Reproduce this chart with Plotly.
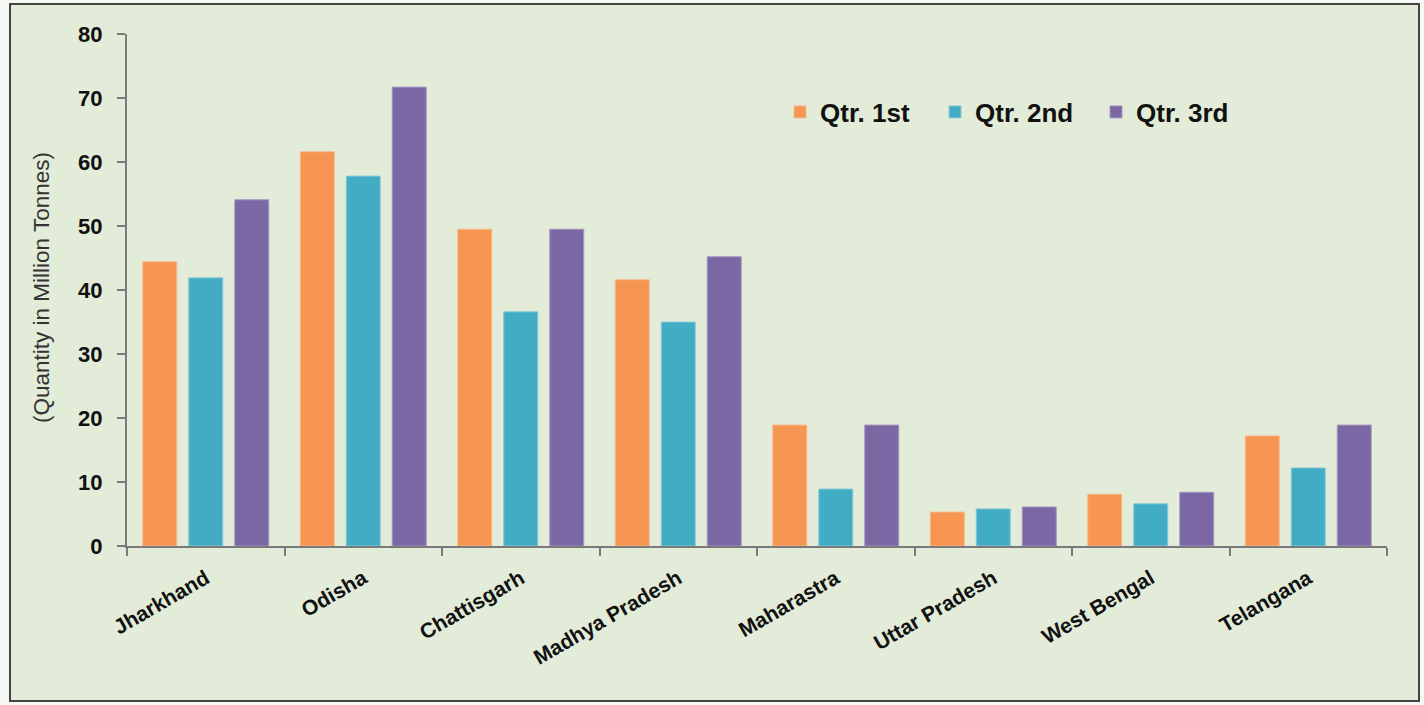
import plotly.graph_objects as go

states = ["Jharkhand", "Odisha", "Chattisgarh", "Madhya Pradesh", "Maharastra",
          "Uttar Pradesh", "West Bengal", "Telangana"]
qtr1 = [44.4, 61.6, 49.5, 41.6, 18.9, 5.3, 8.1, 17.2]
qtr2 = [41.9, 57.8, 36.6, 35.0, 8.9, 5.8, 6.6, 12.2]
qtr3 = [54.1, 71.7, 49.5, 45.2, 18.9, 6.1, 8.4, 18.9]
series_names = ["Qtr. 1st", "Qtr. 2nd", "Qtr. 3rd"]
colors = ["#F79552", "#43ACC5", "#7C67A5"]
edges = ["#F9B98C", "#8CCAD8", "#A898C4"]
y_ticks = [0, 10, 20, 30, 40, 50, 60, 70, 80]

W, H = 1424, 705
ml, mr, mt, mb = 127, 37, 34, 159
pw, ph = W - ml - mr, H - mt - mb

def px2x(p):
    return (p - ml) / pw

def py2y(p):
    return (H - mb - p) / ph

base = "Liberation Sans, Arial, sans-serif"
legend_ids = ["legend", "legend2", "legend3"]
legend_left_px = [780, 935, 1096]

fig = go.Figure()
for name, vals, c, e, lg in zip(series_names, [qtr1, qtr2, qtr3], colors, edges, legend_ids):
    fig.add_trace(go.Bar(x=states, y=vals, name="<b>%s</b>" % name, legend=lg,
                         marker=dict(color=c, line=dict(color=e, width=1))))

legend_layout = {}
for lg, lx in zip(legend_ids, legend_left_px):
    legend_layout[lg] = dict(orientation="h", x=px2x(lx), y=py2y(112),
                             xanchor="left", yanchor="middle",
                             font=dict(family=base, size=26, color="#111111"),
                             bgcolor="rgba(0,0,0,0)")

fig.add_shape(type="rect", xref="paper", yref="paper", layer="below",
              x0=px2x(10), x1=px2x(1419), y0=py2y(701), y1=py2y(4),
              fillcolor="#E2ECD8", line=dict(color="#444444", width=2))

fig.add_annotation(text="(Quantity in Million Tonnes)", textangle=-90,
                   xref="paper", yref="paper", x=px2x(41), y=py2y(288),
                   xanchor="center", yanchor="middle", showarrow=False,
                   font=dict(family=base, size=22.5, color="#333333"))

fig.update_layout(
    width=W, height=H,
    margin=dict(l=ml, r=mr, t=mt, b=mb),
    paper_bgcolor="#F6F8F3",
    plot_bgcolor="rgba(0,0,0,0)",
    barmode="group", bargap=0.124, bargroupgap=0.26,
    showlegend=True,
    font=dict(family=base),
    **legend_layout,
)
fig.update_yaxes(range=[0, 80], tickvals=y_ticks, ticktext=["<b>%d</b>" % v for v in y_ticks],
                 showgrid=False, zeroline=False,
                 showline=True, linecolor="#7A7A7A", linewidth=2,
                 ticks="outside", ticklen=8, tickwidth=2, tickcolor="#7A7A7A",
                 ticklabelstandoff=10,
                 tickfont=dict(family=base, size=22, color="#111111"))
fig.update_xaxes(tickvals=states, ticktext=["<b>%s</b>" % s for s in states],
                 showgrid=False, showline=True, linecolor="#7A7A7A", linewidth=2,
                 ticks="outside", ticklen=8, tickwidth=2, tickcolor="#7A7A7A",
                 tickson="boundaries", tickangle=-30, ticklabelstandoff=10,
                 tickfont=dict(family=base, size=21, color="#111111"))

fig.write_html("out.html", config={"displayModeBar": False},
               post_script="document.body.style.margin='0';")
